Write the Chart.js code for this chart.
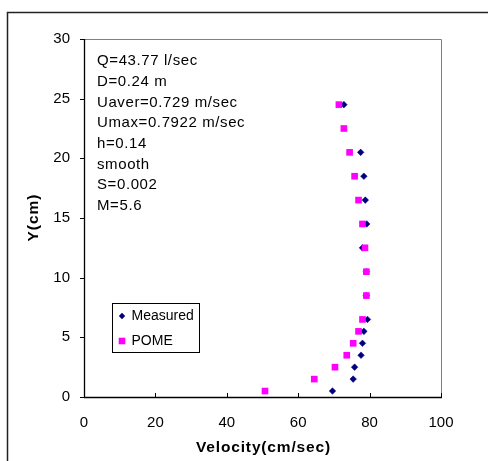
<!DOCTYPE html>
<html>
<head>
<meta charset="utf-8">
<script src="https://cdn.jsdelivr.net/npm/chart.js@4"></script>
<style>
html,body{margin:0;padding:0;background:#fff;}
#wrap{width:488px;height:461px;position:relative;}
</style>
</head>
<body>
<div id="wrap"><canvas id="c" width="488" height="461"></canvas></div>
<script>
const measuredY = [0.5,1.5,2.5,3.5,4.5,5.5,6.5,8.5,10.5,12.5,14.5,16.5,18.5,20.5,24.5];
const measuredV = [69.6,75.4,75.8,77.6,78.0,78.4,79.4,79.1,79.1,78.0,79.2,78.8,78.4,77.5,72.8];
const pomeY = [0.5,1.5,2.5,3.5,4.5,5.5,6.5,8.5,10.5,12.5,14.5,16.5,18.5,20.5,22.5,24.5];
const pomeV = [50.7,64.5,70.3,73.6,75.4,76.9,78.0,79.1,79.1,78.7,78.0,76.9,75.8,74.4,72.8,71.4];
const seriesNames = ['Measured','POME'];
const annotationLines = ['Q=43.77 l/sec','D=0.24 m','Uaver=0.729 m/sec','Umax=0.7922 m/sec','h=0.14','smooth','S=0.002','M=5.6'];
const xTitle = 'Velocity(cm/sec)';
const yTitle = 'Y(cm)';
const FONT = '"Liberation Sans", Arial, sans-serif';

const toPts = (xs, ys) => xs.map((v, i) => ({x: v, y: ys[i]}));

function spacedText(ctx, s, x, y, sp) {
  if ('letterSpacing' in ctx) {
    ctx.letterSpacing = sp + 'px';
    ctx.fillText(s, x, y);
    ctx.letterSpacing = '0px';
  } else {
    ctx.fillText(s, x, y);
  }
}

const framePlugin = {
  id: 'frame',
  beforeDraw(chart) {
    const ctx = chart.ctx;
    ctx.save();
    ctx.fillStyle = '#fff';
    ctx.fillRect(0, 0, chart.width, chart.height);
    ctx.strokeStyle = '#222';
    ctx.lineWidth = 1.5;
    ctx.strokeRect(7.5, 12.5, 600, 600);
    ctx.restore();
  },
  beforeDatasetsDraw(chart) {
    const ctx = chart.ctx;
    const a = chart.chartArea;
    const xs = chart.scales.x, ys = chart.scales.y;
    ctx.save();
    ctx.strokeStyle = '#808080';
    ctx.lineWidth = 1;
    ctx.beginPath();
    ctx.moveTo(Math.round(a.left) + 0.5, Math.round(a.top) + 0.5);
    ctx.lineTo(Math.round(a.right) + 0.5, Math.round(a.top) + 0.5);
    ctx.lineTo(Math.round(a.right) + 0.5, Math.round(a.bottom) + 0.5);
    ctx.stroke();
    ctx.strokeStyle = '#000';
    ctx.lineWidth = 1.3;
    ctx.beginPath();
    ctx.moveTo(Math.round(a.left) + 0.5, Math.round(a.top));
    ctx.lineTo(Math.round(a.left) + 0.5, Math.round(a.bottom) + 0.5);
    ctx.lineTo(Math.round(a.right) + 1, Math.round(a.bottom) + 0.5);
    ctx.stroke();
    ctx.lineWidth = 1;
    ctx.beginPath();
    ys.ticks.forEach(t => {
      const py = Math.round(ys.getPixelForValue(t.value)) + 0.5;
      ctx.moveTo(Math.round(a.left) - 4, py);
      ctx.lineTo(Math.round(a.left), py);
    });
    xs.ticks.forEach(t => {
      const px = Math.round(xs.getPixelForValue(t.value)) + 0.5;
      ctx.moveTo(px, Math.round(a.bottom));
      ctx.lineTo(px, Math.round(a.bottom) - 4);
    });
    ctx.stroke();

    ctx.fillStyle = '#000';
    ctx.font = 'bold 15.5px ' + FONT;
    ctx.textBaseline = 'middle';
    ctx.textAlign = 'center';
    spacedText(ctx, xTitle, (a.left + a.right) / 2 + 1, 448, 0.85);
    ctx.save();
    ctx.translate(34, (a.top + a.bottom) / 2);
    ctx.rotate(-Math.PI / 2);
    spacedText(ctx, yTitle, 0.5, 0, 1.0);
    ctx.restore();
    ctx.restore();
  },
  afterDatasetsDraw(chart) {
    const ctx = chart.ctx;
    ctx.save();
    ctx.fillStyle = '#000';
    ctx.font = '15px ' + FONT;
    ctx.textBaseline = 'middle';
    ctx.textAlign = 'left';
    annotationLines.forEach((s, i) => spacedText(ctx, s, 97, 61 + i * 20.7, 0.6));
    const lx = 112.5, ly = 303.5, lw = 87, lh = 49;
    ctx.fillStyle = '#fff';
    ctx.fillRect(lx, ly, lw, lh);
    ctx.strokeStyle = '#000';
    ctx.lineWidth = 1;
    ctx.strokeRect(lx, ly, lw, lh);
    ctx.font = '14px ' + FONT;
    chart.data.datasets.slice().sort((p, q) => p.legendIdx - q.legendIdx).forEach((ds, i) => {
      const cy = 316 + i * 25;
      ctx.fillStyle = ds.backgroundColor;
      ctx.beginPath();
      if (ds.pointStyle === 'rectRot') {
        ctx.moveTo(122, cy - 3.2); ctx.lineTo(125.2, cy); ctx.lineTo(122, cy + 3.2); ctx.lineTo(118.8, cy);
      } else {
        ctx.rect(118.7, cy - 3.3, 6.6, 6.6);
      }
      ctx.closePath();
      ctx.fill();
      ctx.fillStyle = '#000';
      ctx.fillText(ds.label, 131.5, cy);
    });
    ctx.restore();
  }
};

new Chart(document.getElementById('c'), {
  type: 'scatter',
  data: {
    datasets: [
      {label: seriesNames[0], legendIdx: 0, order: 1, data: toPts(measuredV, measuredY),
       pointStyle: 'rectRot', radius: 3.3, backgroundColor: '#000080', borderColor: '#000080', borderWidth: 0.5},
      {label: seriesNames[1], legendIdx: 1, order: 0, data: toPts(pomeV, pomeY),
       pointStyle: 'rect', radius: 4.7, backgroundColor: '#FF00FF', borderColor: '#FF00FF', borderWidth: 0}
    ]
  },
  plugins: [framePlugin],
  options: {
    responsive: false,
    animation: false,
    events: [],
    layout: {padding: {left: 0, top: 39, right: 47, bottom: 0}},
    plugins: {legend: {display: false}, tooltip: {enabled: false}},
    scales: {
      x: {
        type: 'linear', min: 0, max: 100,
        border: {display: false},
        grid: {display: false, drawTicks: false},
        ticks: {stepSize: 20, color: '#000', padding: 17, font: {family: FONT, size: 15}},
        title: {display: false, text: xTitle},
        afterFit(s) { s.height = 64; }
      },
      y: {
        type: 'linear', min: 0, max: 30,
        border: {display: false},
        grid: {display: false, drawTicks: false},
        ticks: {stepSize: 5, color: '#000', padding: 14, font: {family: FONT, size: 15}},
        title: {display: false, text: yTitle},
        afterFit(s) { s.width = 84; }
      }
    }
  }
});
</script>
</body>
</html>
